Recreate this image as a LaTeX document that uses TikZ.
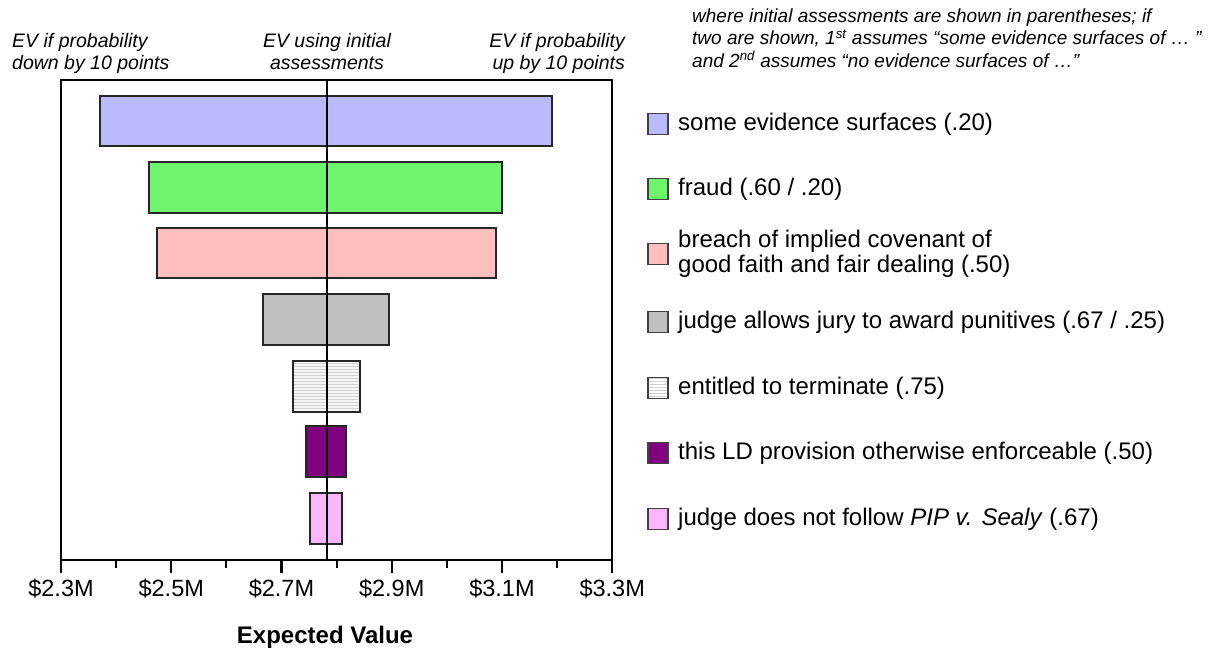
\documentclass[tikz,border=0pt]{standalone}
\usepackage{fontspec}
\setmainfont{Liberation Sans}
\usetikzlibrary{patterns}
\definecolor{cblue}{RGB}{186,186,252}
\definecolor{cgreen}{RGB}{110,245,110}
\definecolor{cpink}{RGB}{255,190,190}
\definecolor{cgray}{RGB}{192,192,192}
\definecolor{cwhite}{RGB}{246,246,246}
\definecolor{cpurple}{RGB}{128,0,128}
\definecolor{cmag}{RGB}{250,182,250}
\begin{document}
\begin{tikzpicture}[x=1pt,y=-1pt,
  barbox/.style={draw=black!85, line width=1.8pt},
  keybox/.style={draw=black!75, line width=1.2pt, minimum width=20pt, minimum height=21pt, inner sep=0pt},
  keytext/.style={anchor=west, inner sep=0pt, align=left, font=\fontsize{24}{25.5}\selectfont},
  hdr/.style={inner sep=0pt, font=\fontsize{19.5}{22}\selectfont\itshape},
  ticklab/.style={inner sep=0pt, font=\fontsize{23.5}{26}\selectfont},
  axisline/.style={line width=2.2pt, black}]
\useasboundingbox (0,0) rectangle (1217,649);

% headers
\node[hdr, anchor=base west, align=left] (h1) at (12,69) {EV if probability\\down by 10 points};
\node[hdr, anchor=base, align=center] (h2) at (327,69) {EV using initial\\assessments};
\node[hdr, anchor=base east, align=right] (h3) at (625,69) {EV if probability\\up by 10 points};

% note
\node[inner sep=0pt, anchor=base west, align=left, font=\fontsize{19}{22.5}\selectfont\itshape] (note) at (692,67)
 {where initial assessments are shown in parentheses; if\\
  two are shown, 1\textsuperscript{st} assumes “some evidence surfaces of … ”\\
  and 2\textsuperscript{nd} assumes “no evidence surfaces of …”};

% bars
\path[barbox, fill=cblue]   (99.7,95.7)  rectangle (552.3,146.3);
\path[barbox, fill=cgreen]  (149.3,162.3) rectangle (501.7,213);
\path[barbox, fill=cpink]   (156.7,227.7) rectangle (496.3,278.3);
\path[barbox, fill=cgray]   (263.3,294.3) rectangle (388.7,345);
\path[barbox, fill=cwhite]  (292.7,360.7) rectangle (359.7,411.7);
\path[pattern=horizontal lines, pattern color=black!18] (292.7,360.7) rectangle (359.7,411.7);
\path[barbox] (292.7,360.7) rectangle (359.7,411.7);
\path[barbox, fill=cpurple] (305.7,426)   rectangle (346.3,477.3);
\path[barbox, fill=cmag]    (309.7,492.7) rectangle (342,544);

% frame and axis
\draw[axisline] (61,573) -- (61,80) -- (612,80) -- (612,573);
\draw[axisline] (61,560) -- (612,560);
\draw[axisline] (326.7,80) -- (326.7,560);
\foreach \i in {1,3,5,7,9} \draw[axisline] ({61+\i*55.12},560) -- ({61+\i*55.12},568);
\foreach \i in {2,4,6,8} \draw[axisline] ({61+\i*55.12},560) -- ({61+\i*55.12},573);

% tick labels
\foreach \i/\t in {0/2.3,2/2.5,4/2.7,6/2.9,8/3.1,10/3.3}
  \node[ticklab, anchor=base] (tl\i) at ({61+\i*55.12},596) {\$\t M};

\node[inner sep=0pt, anchor=base, font=\fontsize{24}{26}\selectfont\bfseries] (xt) at (325,643) {Expected Value};

% legend
\node[keybox, fill=cblue]   (k1) at (658,124) {};
\node[keybox, fill=cgreen]  (k2) at (658,189) {};
\node[keybox, fill=cpink]   (k3) at (658,254) {};
\node[keybox, fill=cgray]   (k4) at (658,322) {};
\node[keybox, fill=cwhite, pattern=horizontal lines, pattern color=black!18]  (k5) at (658,388) {};
\node[keybox, fill=cpurple] (k6) at (658,453) {};
\node[keybox, fill=cmag]    (k7) at (658,519) {};

\node[keytext] (t1) at (678,124) {some evidence surfaces (.20)};
\node[keytext] (t2) at (678,189) {fraud (.60 / .20)};
\node[keytext] (t3) at (678,254) {breach of implied covenant of\\good faith and fair dealing (.50)};
\node[keytext] (t4) at (678,322) {judge allows jury to award punitives (.67 / .25)};
\node[keytext] (t5) at (678,388) {entitled to terminate (.75)};
\node[keytext] (t6) at (678,453) {this LD provision otherwise enforceable (.50)};
\node[keytext] (t7) at (678,519) {judge does not follow \textit{PIP v. Sealy} (.67)};
\end{tikzpicture}
\end{document}
